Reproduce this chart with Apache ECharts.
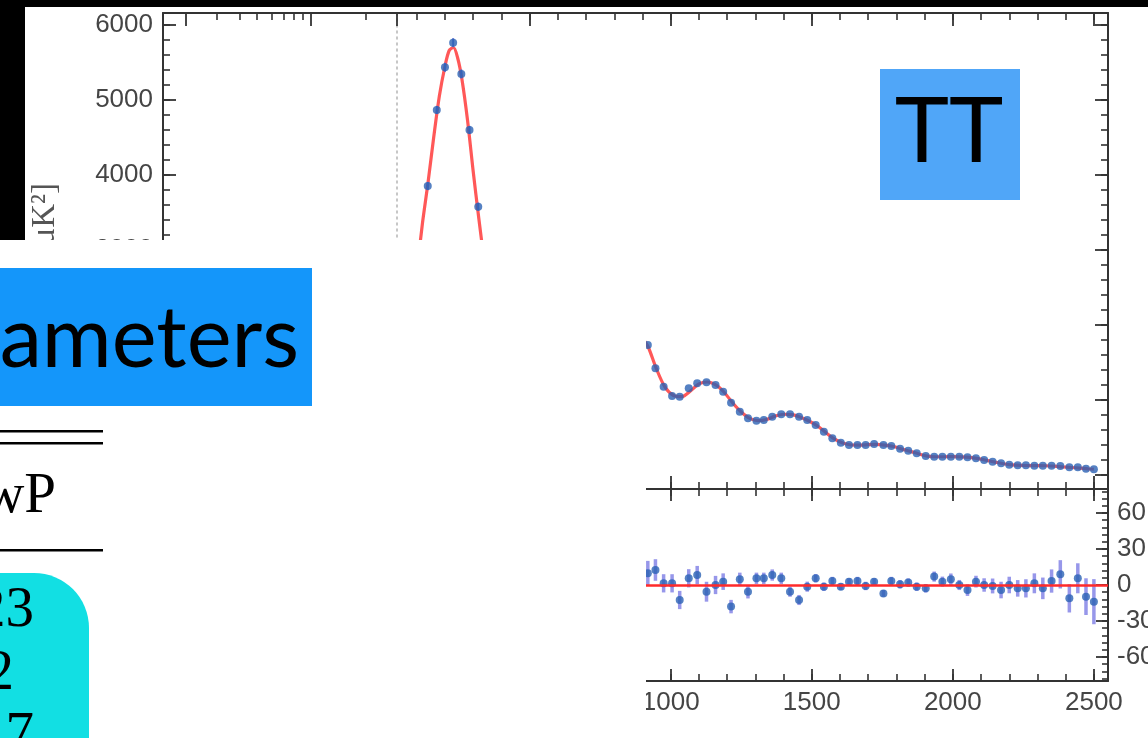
<!DOCTYPE html>
<html>
<head>
<meta charset="utf-8">
<title>Planck TT power spectrum</title>
<script src="https://cdn.jsdelivr.net/npm/echarts@6/dist/echarts.min.js"></script>
<style>
  html, body { margin: 0; padding: 0; background: #ffffff; }
  #wrap { position: relative; width: 1148px; height: 738px; overflow: hidden; }
  #chart, #slide { position: absolute; left: 0; top: 0; width: 1148px; height: 738px; }
  #chart { filter: blur(0.6px); }
</style>
</head>
<body>
<div id="wrap">
  <div id="chart"></div>
  <div id="slide"></div>
</div>
<script>
// ---- theory curve, low multipoles (log-scaled section, ℓ = 2 … 30) ----
const lowL = [2, 3, 4, 5, 6, 8, 10, 13, 16, 20, 25, 30];
const lowD = [1010, 960, 920, 890, 870, 850, 850, 870, 900, 960, 1040, 1130];

// ---- theory curve, high multipoles (linear section, ℓ = 30 … 2500) ----
const highL = [30, 45, 60, 80, 100, 120, 140, 160, 180, 200, 215, 230, 245, 260, 280, 300, 320, 340,
  360, 380, 400, 420, 440, 460, 480, 500, 520, 540, 560, 580, 600, 620, 640, 660, 680, 700, 720, 740,
  760, 780, 800, 820, 840, 860, 880, 900, 920, 950, 980, 1010, 1040, 1070, 1100, 1130, 1160, 1190,
  1220, 1250, 1280, 1310, 1340, 1370, 1400, 1430, 1460, 1490, 1520, 1550, 1580, 1610, 1640, 1670,
  1700, 1730, 1760, 1790, 1820, 1850, 1880, 1910, 1940, 1970, 2000, 2030, 2060, 2090, 2120, 2150,
  2180, 2210, 2240, 2270, 2300, 2330, 2360, 2390, 2420, 2450, 2480, 2500];
const highD = [1130, 1380, 1650, 2100, 2700, 3350, 3900, 4500, 5050, 5450, 5660, 5700, 5560, 5280,
  4730, 4050, 3420, 2830, 2300, 1900, 1640, 1560, 1620, 1800, 2050, 2310, 2510, 2580, 2510, 2330,
  2110, 1950, 1860, 1840, 1880, 1980, 2130, 2290, 2430, 2520, 2550, 2510, 2410, 2250, 2050, 1830,
  1710, 1410, 1170, 1060, 1045, 1120, 1215, 1240, 1200, 1100, 960, 840, 755, 725, 740, 785, 810,
  805, 770, 720, 655, 565, 480, 425, 400, 398, 405, 408, 398, 380, 345, 315, 280, 252, 243, 243,
  244, 242, 234, 217, 195, 172, 150, 135, 128, 126, 124, 123, 118, 108, 100, 92, 82, 76];

// ---- binned band powers around the first acoustic peak ----
const peakL = [139, 171, 200, 229, 258, 287, 318];
const peakD = [3853, 4867, 5436, 5764, 5347, 4600, 3577];
const peakErr = [55, 55, 60, 60, 60, 55, 55];

// ---- binned band powers, damping tail ----
const tailL = [919, 946, 975, 1005, 1032, 1064, 1094, 1127, 1159, 1186, 1214, 1245, 1274, 1304,
  1330, 1360, 1392, 1423, 1455, 1484, 1514, 1543, 1573, 1603, 1632, 1662, 1691, 1721, 1754, 1782,
  1813, 1842, 1872, 1904, 1934, 1963, 1993, 2023, 2052, 2082, 2111, 2141, 2171, 2200, 2230, 2259,
  2289, 2319, 2350, 2381, 2413, 2443, 2472, 2500];
const tailD = [1733, 1422, 1178, 1053, 1044, 1156, 1222, 1236, 1200, 1111, 964, 844, 756, 724, 733,
  778, 809, 809, 778, 733, 667, 578, 489, 431, 400, 400, 400, 413, 400, 387, 351, 324, 289, 253, 244,
  244, 244, 244, 236, 222, 200, 178, 156, 138, 129, 129, 124, 124, 124, 120, 102, 102, 84, 76];

// ---- residuals ΔDℓ with respect to the best fit ----
const resD = [9.7, 12.5, 1.4, 1.4, -12.5, 5.6, 8.3, -5.6, 0, 2.8, -18, 4.7, -5.6, 5.6, 5.6, 8.3, 5.6,
  -5.6, -12.5, -1.4, 5.6, -1.4, 3.3, -1.4, 2.8, 3.3, -0.8, 2.8, -7, 3.3, 0.6, 2, -1.4, -2.8, 7, 2.8,
  4.7, 0, -4.2, 2.8, 0, -0.8, -4.2, 0, -2.8, -2.8, 1.4, -2.8, 3.3, 8.9, -11.1, 5.6, -9.7, -13.9];
const resErr = [10.4, 9, 7.6, 7.6, 7.6, 7.6, 7.6, 8.3, 7.6, 6.9, 5.6, 5.6, 5.6, 4.7, 4.7, 4.7, 4.7,
  4.2, 4.2, 4.2, 3.5, 3.5, 3.5, 2.8, 2.8, 3.5, 3.5, 2.8, 2.8, 3.5, 3.5, 3.5, 3.5, 3.5, 4.2, 4.2, 4.9,
  4.2, 4.9, 4.9, 5.6, 6.2, 6.9, 6.9, 6.9, 7.6, 8.3, 9, 9.7, 11.8, 11.8, 12.5, 15.3, 18.8];

// ---- tick labels ----
const logMajorTicks = [2, 10, 30];
const logMinorTicks = [3, 4, 5, 6, 7, 8, 9, 20];
const linMajorTicks = [500, 1000, 1500, 2000, 2500];
const mainYTicks = [0, 1000, 2000, 3000, 4000, 5000, 6000];
const resYTicks = [-60, -30, 0, 30, 60];

// minor tick positions
const range = (a, b, s) => { const r = []; for (let v = a; v <= b + 1e-9; v += s) r.push(v); return r; };
const linMinorTicks = range(100, 2500, 100);
const mainYMinor = range(0, 6000, 200);
const resYMinor = range(-78, 78, 6);

const INK = '#333333';
const LABEL = { color: '#454545', fontSize: 26, fontFamily: 'Liberation Sans, Arial, sans-serif',
                formatter: (v) => String(v) };

// one axis carrying the line + short ticks, a twin carrying long ticks + labels
function axisPair(gridIndex, type, min, max, position, minorVals, majorVals, minorLen, majorLen, label) {
  const base = { gridIndex, type, min, max, position, splitLine: { show: false }, silent: true };
  if (type === 'log') base.logBase = 10;
  const minor = Object.assign({}, base, {
    axisLine: { show: true, onZero: false, lineStyle: { color: INK, width: 2 } },
    axisTick: minorVals.length
      ? { show: true, inside: true, length: minorLen, customValues: minorVals, lineStyle: { color: INK, width: 1.6 } }
      : { show: false },
    axisLabel: { show: false }
  });
  const major = Object.assign({}, base, {
    axisLine: { show: false, onZero: false },
    axisTick: { show: true, inside: true, length: majorLen, customValues: majorVals, lineStyle: { color: INK, width: 1.8 } },
    axisLabel: label ? Object.assign({ show: true, customValues: majorVals }, LABEL, label) : { show: false }
  });
  return [minor, major];
}

function dottedAxis(gridIndex, min, max, position) {
  return {
    gridIndex, type: 'value', min, max, position, silent: true,
    splitLine: { show: false }, axisTick: { show: false }, axisLabel: { show: false },
    axisLine: { show: true, onZero: false, lineStyle: { color: '#b5b5b5', width: 1.5, type: [2, 4] } }
  };
}

const MAIN_MIN = -187, MAIN_MAX = 6160, RES_MIN = -80, RES_MAX = 80;
const LOG_MIN = 1.5, LIN_MIN = 30, LIN_MAX = 2550;

const xAxis = [].concat(
  // grid 0 : log-ℓ section of the spectrum panel
  axisPair(0, 'log', LOG_MIN, 30, 'top', logMinorTicks, logMajorTicks, 7, 13),          // 0,1
  axisPair(0, 'log', LOG_MIN, 30, 'bottom', logMinorTicks, logMajorTicks, 7, 13),       // 2,3
  // grid 1 : linear-ℓ section of the spectrum panel
  axisPair(1, 'value', LIN_MIN, LIN_MAX, 'top', linMinorTicks, linMajorTicks, 7, 13),   // 4,5
  axisPair(1, 'value', LIN_MIN, LIN_MAX, 'bottom', linMinorTicks, linMajorTicks, 7, 13),// 6,7
  // grid 2 : residual panel
  axisPair(2, 'value', LIN_MIN, LIN_MAX, 'top', linMinorTicks, linMajorTicks, 7, 12),   // 8,9
  axisPair(2, 'value', LIN_MIN, LIN_MAX, 'bottom', linMinorTicks, linMajorTicks, 7, 12, { margin: 9 }) // 10,11
);

const yAxis = [].concat(
  axisPair(0, 'value', MAIN_MIN, MAIN_MAX, 'left', mainYMinor, mainYTicks, 7, 13, { margin: 10 }), // 0,1
  [dottedAxis(1, MAIN_MIN, MAIN_MAX, 'left')],                                                     // 2
  axisPair(1, 'value', MAIN_MIN, MAIN_MAX, 'right', mainYMinor, mainYTicks, 7, 13),               // 3,4
  [dottedAxis(2, RES_MIN, RES_MAX, 'left')],                                                       // 5
  axisPair(2, 'value', RES_MIN, RES_MAX, 'right', resYMinor, resYTicks, 6, 12, { margin: 9 })     // 6,7
);

function errorBars(xIdx, yIdx, xs, ys, errs, color, width) {
  return {
    type: 'custom', xAxisIndex: xIdx, yAxisIndex: yIdx, silent: true, clip: true, z: 3,
    data: xs.map((x, i) => [x, ys[i] - errs[i], ys[i] + errs[i]]),
    encode: { x: 0, y: [1, 2] },
    renderItem: (params, api) => {
      const lo = api.coord([api.value(0), api.value(1)]);
      const hi = api.coord([api.value(0), api.value(2)]);
      return { type: 'line', shape: { x1: lo[0], y1: lo[1], x2: hi[0], y2: hi[1] },
               style: { stroke: color, lineWidth: width } };
    }
  };
}

const CURVE = { color: '#ff5858', width: 3.2 };
const POINT = '#2a62b4';

const chartOption = {
  animation: false,
  backgroundColor: '#ffffff',
  grid: [
    { left: 163, top: 13, width: 234, height: 476, outerBoundsMode: 'none', containLabel: false },
    { left: 397, top: 13, width: 711, height: 476, outerBoundsMode: 'none', containLabel: false },
    { left: 397, top: 489, width: 711, height: 192, outerBoundsMode: 'none', containLabel: false }
  ],
  xAxis, yAxis,
  series: [
    { type: 'line', xAxisIndex: 0, yAxisIndex: 0, data: lowL.map((l, i) => [l, lowD[i]]),
      smooth: 0.3, showSymbol: false, lineStyle: CURVE, z: 2 },
    { type: 'line', xAxisIndex: 4, yAxisIndex: 3, data: highL.map((l, i) => [l, highD[i]]),
      smooth: 0.3, showSymbol: false, lineStyle: CURVE, z: 2 },
    errorBars(4, 3, peakL, peakD, peakErr, '#5a6cd0', 2),
    { type: 'scatter', xAxisIndex: 4, yAxisIndex: 3, symbol: 'circle', symbolSize: 8,
      itemStyle: { color: POINT }, z: 4,
      data: peakL.map((l, i) => [l, peakD[i]]).concat(tailL.map((l, i) => [l, tailD[i]])) },
    errorBars(8, 6, tailL, resD, resErr, 'rgba(96,96,222,0.65)', 3.5),
    { type: 'scatter', xAxisIndex: 8, yAxisIndex: 6, symbol: 'circle', symbolSize: 8,
      itemStyle: { color: POINT }, z: 4,
      data: tailL.map((l, i) => [l, resD[i]]),
      markLine: { silent: true, symbol: 'none', label: { show: false },
        lineStyle: { color: '#ff2a2a', width: 2.5, type: 'solid' }, data: [{ yAxis: 0 }] } }
  ],
  graphic: [
    // vertical axis title of the spectrum panel
    { type: 'text', x: 45, y: 183, rotation: Math.PI / 2, z: 50,
      style: { text: 'Dℓᵀᵀ [μK²]', textAlign: 'right', textVerticalAlign: 'middle',
               font: '33px "Liberation Serif", "Times New Roman", serif', fill: '#555555' } }
  ]
};

const SERIF = '"Liberation Serif", "Times New Roman", serif';
const slideOption = {
  animation: false,
  backgroundColor: 'transparent',
  graphic: [
    // slide background pieces
    { type: 'rect', z: 100, shape: { x: 0, y: 0, width: 1148, height: 7 }, style: { fill: '#000000' } },
    { type: 'rect', z: 100, shape: { x: 0, y: 0, width: 25, height: 240 }, style: { fill: '#000000' } },
    { type: 'rect', z: 100, shape: { x: 0, y: 240, width: 646, height: 498 }, style: { fill: '#ffffff' } },
    // section title
    { type: 'rect', z: 101, shape: { x: 0, y: 268, width: 312, height: 138 }, style: { fill: '#1496fa' } },
    { type: 'text', z: 102, x: 299, y: 340,
      style: { text: 'ameters', textAlign: 'right', textVerticalAlign: 'middle',
               font: '85px Lato, "Open Sans", sans-serif', fill: '#000000' } },
    // table rules and header
    { type: 'rect', z: 101, shape: { x: 0, y: 430, width: 103, height: 2.4 }, style: { fill: '#000000' } },
    { type: 'rect', z: 101, shape: { x: 0, y: 442, width: 103, height: 2.4 }, style: { fill: '#000000' } },
    { type: 'rect', z: 101, shape: { x: 0, y: 549, width: 103, height: 2.4 }, style: { fill: '#000000' } },
    { type: 'text', z: 102, x: 56, y: 497,
      style: { text: 'wP', textAlign: 'right', textVerticalAlign: 'middle', font: '57px ' + SERIF, fill: '#000000' } },
    // highlighted column
    { type: 'rect', z: 101, shape: { x: -60, y: 573, width: 149, height: 240, r: [0, 55, 0, 0] },
      style: { fill: '#12dfe3' } },
    { type: 'text', z: 102, x: 34, y: 611,
      style: { text: '23', textAlign: 'right', textVerticalAlign: 'middle', font: '57px ' + SERIF, fill: '#000000' } },
    { type: 'text', z: 102, x: 14, y: 674,
      style: { text: '2', textAlign: 'right', textVerticalAlign: 'middle', font: '57px ' + SERIF, fill: '#000000' } },
    { type: 'text', z: 102, x: 34, y: 736,
      style: { text: '7', textAlign: 'right', textVerticalAlign: 'middle', font: '57px ' + SERIF, fill: '#000000' } },
    // spectrum tag
    { type: 'rect', z: 101, shape: { x: 880, y: 69, width: 140, height: 131 }, style: { fill: '#50a6f8' } },
    { type: 'text', z: 102, x: 949, y: 132,
      style: { text: 'TT', textAlign: 'center', textVerticalAlign: 'middle',
               font: '92px Lato, "Open Sans", sans-serif', fill: '#000000' } }
  ]
};

echarts.init(document.getElementById('chart'), null, { renderer: 'canvas' }).setOption(chartOption);
echarts.init(document.getElementById('slide'), null, { renderer: 'canvas' }).setOption(slideOption);
</script>
</body>
</html>
